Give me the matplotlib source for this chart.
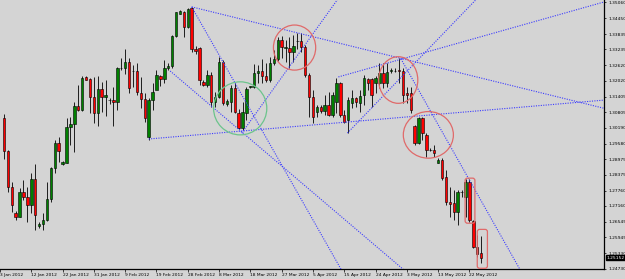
import matplotlib
matplotlib.use("Agg")
import matplotlib.pyplot as plt
from matplotlib.patches import Ellipse, FancyBboxPatch

# EURUSD daily candles, 4 Jan - 25 May 2012 (bar index = position on chart)
opens = [1.3058, 1.2929, 1.2790, 1.2689, 1.2673, 1.2770, 1.2751, 1.2720, 1.2821, 1.2638,
         1.2646, 1.2661, 1.2743, 1.2863, 1.2960, 1.2879, 1.2883, 1.3022, 1.3034, 1.3104,
         1.3089, 1.3217, 1.3209, 1.3139, 1.3077, 1.3170, 1.3139, 1.3127, 1.3127, 1.3120,
         1.3252, 1.3252, 1.3275, 1.3240, 1.3240, 1.3155, 1.3131, 1.2984, 1.3127, 1.3166,
         1.3221, 1.3209, 1.3252, 1.3259, 1.3376, 1.3461, 1.3469, 1.3411, 1.3485, 1.3325,
         1.3329, 1.3197, 1.3186, 1.3225, 1.3120, 1.3139, 1.3275, 1.3112, 1.3120, 1.3174,
         1.3077, 1.3019, 1.3077, 1.3178, 1.3178, 1.3232, 1.3240, 1.3221, 1.3205, 1.3271,
         1.3287, 1.3360, 1.3329, 1.3329, 1.3314, 1.3357, 1.3357, 1.3333, 1.3225, 1.3139,
         1.3081, 1.3100, 1.3085, 1.3108, 1.3069, 1.3120, 1.3193, 1.3069, 1.3050, 1.3116,
         1.3135, 1.3116, 1.3147, 1.3209, 1.3209, 1.3193, 1.3193, 1.3232, 1.3193, 1.3240,
         1.3240, 1.3244, 1.3240, 1.3155, 1.3155, 1.3026, 1.2960, 1.3058, 1.2991, 1.2933,
         1.2933, 1.2883, 1.2894, 1.2828, 1.2731, 1.2728, 1.2693, 1.2770, 1.2751, 1.2809,
         1.2658, 1.2557, 1.2533]
highs = [1.3073, 1.2933, 1.2809, 1.2696, 1.2786, 1.2817, 1.2790, 1.2844, 1.2879, 1.2654,
         1.2689, 1.2809, 1.2867, 1.2972, 1.2984, 1.2890, 1.3058, 1.3061, 1.3120, 1.3186,
         1.3221, 1.3221, 1.3213, 1.3217, 1.3221, 1.3197, 1.3205, 1.3135, 1.3178, 1.3256,
         1.3291, 1.3325, 1.3291, 1.3263, 1.3271, 1.3217, 1.3155, 1.3135, 1.3193, 1.3244,
         1.3225, 1.3283, 1.3271, 1.3380, 1.3469, 1.3477, 1.3473, 1.3485, 1.3489, 1.3337,
         1.3333, 1.3205, 1.3244, 1.3236, 1.3158, 1.3294, 1.3283, 1.3131, 1.3186, 1.3193,
         1.3092, 1.3120, 1.3178, 1.3182, 1.3267, 1.3263, 1.3287, 1.3271, 1.3294, 1.3322,
         1.3372, 1.3376, 1.3360, 1.3372, 1.3380, 1.3388, 1.3388, 1.3341, 1.3232, 1.3166,
         1.3108, 1.3108, 1.3147, 1.3158, 1.3158, 1.3213, 1.3197, 1.3089, 1.3139, 1.3166,
         1.3139, 1.3166, 1.3225, 1.3213, 1.3213, 1.3221, 1.3271, 1.3271, 1.3271, 1.3252,
         1.3252, 1.3291, 1.3252, 1.3178, 1.3178, 1.3030, 1.3061, 1.3061, 1.2999, 1.2941,
         1.2953, 1.2902, 1.2902, 1.2856, 1.2790, 1.2778, 1.2778, 1.2778, 1.2821, 1.2821,
         1.2661, 1.2603, 1.2599]
lows = [1.2898, 1.2770, 1.2693, 1.2661, 1.2673, 1.2739, 1.2654, 1.2689, 1.2623, 1.2630,
        1.2623, 1.2658, 1.2731, 1.2844, 1.2887, 1.2875, 1.2883, 1.2953, 1.2925, 1.3085,
        1.3085, 1.3205, 1.3077, 1.3038, 1.3026, 1.3081, 1.3065, 1.3112, 1.3026, 1.3089,
        1.3244, 1.3228, 1.3155, 1.3178, 1.3147, 1.3096, 1.3042, 1.2972, 1.3089, 1.3186,
        1.3182, 1.3193, 1.3244, 1.3252, 1.3372, 1.3461, 1.3372, 1.3407, 1.3314, 1.3306,
        1.3186, 1.3182, 1.3178, 1.3100, 1.3100, 1.3135, 1.3108, 1.3104, 1.3081, 1.3077,
        1.3015, 1.3011, 1.3050, 1.3174, 1.3174, 1.3193, 1.3193, 1.3197, 1.3197, 1.3263,
        1.3279, 1.3291, 1.3275, 1.3252, 1.3275, 1.3325, 1.3314, 1.3217, 1.3061, 1.3038,
        1.3061, 1.3077, 1.3069, 1.3065, 1.3061, 1.3077, 1.3061, 1.3038, 1.2999, 1.3096,
        1.3100, 1.3081, 1.3108, 1.3166, 1.3100, 1.3155, 1.3174, 1.3174, 1.3178, 1.3232,
        1.3236, 1.3193, 1.3116, 1.3116, 1.3077, 1.2953, 1.2957, 1.2972, 1.2906, 1.2929,
        1.2906, 1.2883, 1.2817, 1.2720, 1.2673, 1.2661, 1.2642, 1.2751, 1.2673, 1.2654,
        1.2553, 1.2518, 1.2494]
closes = [1.2929, 1.2790, 1.2720, 1.2673, 1.2770, 1.2751, 1.2720, 1.2821, 1.2681, 1.2646,
          1.2661, 1.2743, 1.2863, 1.2960, 1.2929, 1.2887, 1.3022, 1.3034, 1.3104, 1.3089,
          1.3213, 1.3205, 1.3139, 1.3077, 1.3170, 1.3139, 1.3147, 1.3128, 1.3120, 1.3252,
          1.3252, 1.3275, 1.3174, 1.3240, 1.3158, 1.3131, 1.3058, 1.3127, 1.3158, 1.3225,
          1.3209, 1.3252, 1.3259, 1.3376, 1.3469, 1.3473, 1.3411, 1.3481, 1.3325, 1.3318,
          1.3205, 1.3186, 1.3225, 1.3120, 1.3139, 1.3275, 1.3116, 1.3123, 1.3174, 1.3081,
          1.3019, 1.3081, 1.3170, 1.3182, 1.3232, 1.3240, 1.3221, 1.3205, 1.3271, 1.3287,
          1.3360, 1.3333, 1.3333, 1.3314, 1.3337, 1.3357, 1.3333, 1.3225, 1.3139, 1.3061,
          1.3100, 1.3085, 1.3108, 1.3069, 1.3147, 1.3193, 1.3069, 1.3042, 1.3127, 1.3135,
          1.3120, 1.3143, 1.3213, 1.3193, 1.3147, 1.3213, 1.3232, 1.3193, 1.3236, 1.3244,
          1.3240, 1.3240, 1.3147, 1.3147, 1.3089, 1.2960, 1.3058, 1.2999, 1.2933, 1.2933,
          1.2922, 1.2894, 1.2825, 1.2731, 1.2724, 1.2693, 1.2770, 1.2770, 1.2809, 1.2661,
          1.2557, 1.2529, 1.2515]
last_price = 1.25152

date_labels = ["3 Jan 2012", "12 Jan 2012", "22 Jan 2012", "31 Jan 2012", "9 Feb 2012",
               "19 Feb 2012", "28 Feb 2012", "8 Mar 2012", "18 Mar 2012", "27 Mar 2012",
               "5 Apr 2012", "15 Apr 2012", "24 Apr 2012", "3 May 2012", "13 May 2012",
               "22 May 2012"]
date_idx = [-1, 7, 15, 23, 31, 39, 47, 55, 63, 71, 79, 87, 95, 103, 111, 119]

price_ticks = [1.35060, 1.34450, 1.33835, 1.33235, 1.32620, 1.32020, 1.31405, 1.30805,
               1.30190, 1.29580, 1.28975, 1.28375, 1.27760, 1.27160, 1.26545, 1.25945,
               1.25330, 1.24730]

# trend lines drawn on the chart: (bar1, price1, bar2, price2), extended to the right
trend_lines = [
    (48.0, 1.3489, 101.0, 1.3291),   # Feb top -> May 1 top
    (48.0, 1.3489, 86.3, 1.2467),    # Feb top steep down
    (37.0, 1.2976, 153.4, 1.3127),   # Feb low support
    (42.5, 1.3240, 102.3, 1.2467),
    (87.8, 1.2999, 120.6, 1.3516),
    (85.5, 1.3217, 153.4, 1.3508),
    (60.8, 1.2999, 85.2, 1.3516),
    (101.5, 1.3287, 132.0, 1.2467),
]

# marked areas: (centre bar, centre price, width in bars, height in price, colour)
circles = [
    (60.4, 1.3095, 13.6, 0.0206, "#6cc48c"),
    (74.3, 1.3331, 10.8, 0.0175, "#e06a6a"),
    (100.8, 1.3205, 10.0, 0.0181, "#e06a6a"),
    (108.5, 1.2992, 12.8, 0.0181, "#e06a6a"),
]
boxes = [
    (117.9, 1.2649, 2.5, 0.0175),
    (121.0, 1.2474, 2.6, 0.0151),
]

bg = "#d4d4d4"
fig = plt.figure(figsize=(6.25, 2.79), dpi=100, facecolor=bg)
ax = fig.add_axes([0, 10 / 279, 604 / 625, 269 / 279], facecolor=bg)

# candles
for i in range(len(opens)):
    o, h, l, c = opens[i], highs[i], lows[i], closes[i]
    ax.vlines(i, l, h, color="black", lw=0.6, zorder=2)
    col = "#008000" if c >= o else "#ff0000"
    ax.bar(i, abs(c - o), bottom=min(o, c), width=0.62, color=col,
           edgecolor="black", linewidth=0.4, zorder=3)

# trend lines (rays)
for x1, y1, x2, y2 in trend_lines:
    slope = (y2 - y1) / (x2 - x1)
    xe = 160
    ax.plot([x1, xe], [y1, y1 + slope * (xe - x1)], color="#3c3cff",
            ls=(0, (1, 1.2)), lw=0.8, zorder=4)

for cx, cy, w, h, col in circles:
    ax.add_patch(Ellipse((cx, cy), w, h, fill=False, edgecolor=col, lw=0.9, zorder=5))

aspect = 0.0003883 * 3.93
for x0, y0, w, h in boxes:
    ax.add_patch(FancyBboxPatch((x0, y0), w, h, boxstyle="round,pad=0,rounding_size=0.6",
                                mutation_aspect=aspect, fill=False, edgecolor="#e06a6a",
                                lw=0.9, zorder=5))

ax.set_xlim(-0.254, 153.4)
ax.set_ylim(1.24712, 1.35157)

ax.yaxis.tick_right()
ax.set_yticks(price_ticks)
ax.set_yticklabels(["%.5f" % p for p in price_ticks])
ax.set_xticks(date_idx)
ax.set_xticklabels(date_labels, ha="left")
ax.tick_params(axis="y", labelsize=3.2, length=1.5, width=0.5, pad=1.5, colors="black")
ax.tick_params(axis="x", labelsize=3.2, length=2, width=0.5, pad=0.8, colors="black")

for s in ["top", "left"]:
    ax.spines[s].set_visible(False)
ax.spines["right"].set_linewidth(0.9)
ax.spines["bottom"].set_linewidth(0.9)

ax.annotate("%.5f" % last_price, xy=(1.0, last_price), xycoords=("axes fraction", "data"),
            xytext=(2, 0), textcoords="offset points", fontsize=3.2, color="white",
            va="center", ha="left",
            bbox=dict(boxstyle="square,pad=0.15", fc="black", ec="black"))

fig.savefig("out.png", dpi=100, facecolor=bg)
